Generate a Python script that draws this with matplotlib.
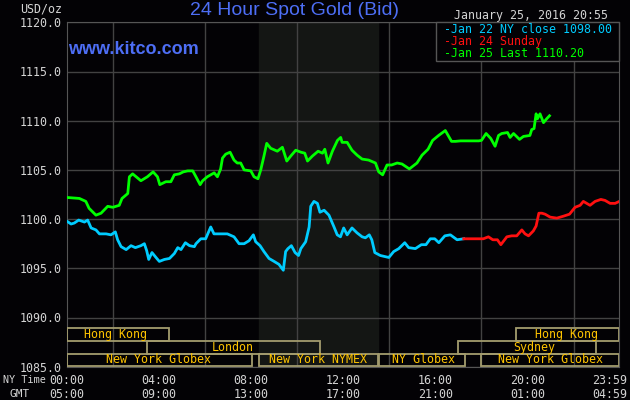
import matplotlib
matplotlib.use("Agg")
import matplotlib.pyplot as plt
from matplotlib.patches import Rectangle
import matplotlib.transforms as mtransforms

# hours (NY time) and bid prices
jan22_hours = [0, 0.19, 0.33, 0.52, 0.77, 0.91, 1.06, 1.27, 1.42, 1.71, 1.92, 2.11, 2.21, 2.36,
               2.58, 2.79, 2.98, 3.22, 3.37, 3.47, 3.56, 3.7, 3.91, 4.02, 4.24, 4.46, 4.67, 4.82,
               4.96, 5.15, 5.33, 5.54, 5.61, 5.82, 6.03, 6.25, 6.39, 6.68, 6.97, 7.26, 7.48, 7.7,
               7.91, 8.1, 8.2, 8.39, 8.56, 8.78, 9.0, 9.21, 9.4, 9.5, 9.6, 9.75, 9.91, 10.06,
               10.16, 10.37, 10.52, 10.59, 10.73, 10.88, 10.99, 11.17, 11.38, 11.6, 11.74, 11.88,
               12.02, 12.17, 12.38, 12.6, 12.82, 12.96, 13.13, 13.24, 13.37, 13.61, 13.98, 14.19,
               14.41, 14.67, 14.84, 15.13, 15.39, 15.59, 15.78, 15.97, 16.15, 16.41, 16.65, 16.94,
               17.23]
jan22_price = [1099.8, 1099.5, 1099.6, 1099.9, 1099.7, 1099.9, 1099.1, 1098.9, 1098.5, 1098.5,
               1098.4, 1098.7, 1097.9, 1097.2, 1096.9, 1097.3, 1097.1, 1097.3, 1097.5, 1096.8,
               1095.9, 1096.6, 1096.0, 1095.7, 1095.9, 1096.0, 1096.5, 1097.1, 1096.9, 1097.6,
               1097.3, 1097.2, 1097.5, 1098.0, 1098.0, 1099.2, 1098.5, 1098.5, 1098.5, 1098.2,
               1097.5, 1097.5, 1097.8, 1098.4, 1097.7, 1097.3, 1096.7, 1096.0, 1095.7, 1095.4,
               1094.8, 1096.7, 1097.0, 1097.3, 1096.6, 1096.3, 1097.0, 1097.7, 1099.2, 1101.3,
               1101.8, 1101.6, 1100.7, 1100.9, 1100.4, 1099.2, 1098.4, 1098.2, 1099.1, 1098.4,
               1099.1, 1098.6, 1098.2, 1098.1, 1098.4, 1097.9, 1096.6, 1096.3, 1096.1, 1096.7,
               1097.0, 1097.6, 1097.1, 1097.0, 1097.4, 1097.4, 1098.0, 1098.0, 1097.6, 1098.3,
               1098.4, 1097.9, 1098.0]

jan24_hours = [17.23, 17.8, 18.08, 18.3, 18.49, 18.69, 18.84, 19.1, 19.31, 19.53, 19.75, 19.89,
               20.04, 20.25, 20.37, 20.49, 20.62, 20.76, 20.98, 21.27, 21.56, 21.82, 22.06, 22.28,
               22.42, 22.71, 22.93, 23.18, 23.36, 23.58, 23.8, 23.98]
jan24_price = [1098.0, 1098.0, 1098.0, 1098.2, 1097.9, 1097.9, 1097.4, 1098.2, 1098.3, 1098.3,
               1098.9, 1098.5, 1098.3, 1098.8, 1099.3, 1100.6, 1100.6, 1100.5, 1100.2, 1100.1,
               1100.3, 1100.5, 1101.2, 1101.4, 1101.8, 1101.4, 1101.8, 1102.0, 1101.9, 1101.6,
               1101.6, 1101.8]

jan25_hours = [0, 0.55, 0.83, 0.97, 1.27, 1.49, 1.78, 2.0, 2.28, 2.4, 2.65, 2.72, 2.86, 3.22,
               3.5, 3.75, 3.94, 4.04, 4.3, 4.52, 4.67, 4.89, 5.06, 5.25, 5.47, 5.61, 5.79, 5.9,
               6.1, 6.4, 6.54, 6.68, 6.76, 6.9, 7.09, 7.26, 7.4, 7.55, 7.7, 7.99, 8.13, 8.3,
               8.42, 8.56, 8.68, 8.85, 9.14, 9.36, 9.55, 9.72, 9.94, 10.16, 10.33, 10.45, 10.66,
               10.91, 11.1, 11.2, 11.34, 11.53, 11.75, 11.89, 11.95, 12.17, 12.38, 12.6, 12.82,
               13.1, 13.4, 13.54, 13.71, 13.9, 14.1, 14.34, 14.55, 14.87, 15.2, 15.42, 15.68,
               15.88, 16.14, 16.43, 16.7, 16.87, 17.09, 17.88, 18.0, 18.2, 18.4, 18.59, 18.74,
               18.88, 19.13, 19.24, 19.39, 19.65, 19.82, 20.1, 20.18, 20.28, 20.37, 20.43, 20.54,
               20.69, 20.83, 20.95]
jan25_price = [1102.2, 1102.1, 1101.8, 1101.1, 1100.4, 1100.6, 1101.3, 1101.2, 1101.4, 1102.1,
               1102.6, 1104.3, 1104.6, 1103.9, 1104.3, 1104.8, 1104.3, 1103.5, 1103.8, 1103.8,
               1104.5, 1104.6, 1104.8, 1104.9, 1104.9, 1104.3, 1103.5, 1103.9, 1104.3, 1104.7,
               1104.3, 1105.1, 1106.2, 1106.6, 1106.8, 1106.0, 1105.7, 1105.7, 1105.0, 1104.9,
               1104.3, 1104.1, 1105.0, 1106.4, 1107.7, 1107.2, 1106.9, 1107.3, 1105.9, 1106.4,
               1107.0, 1106.8, 1106.7, 1105.9, 1106.4, 1106.9, 1106.7, 1107.1, 1105.7, 1106.9,
               1108.0, 1108.3, 1107.8, 1107.8, 1107.0, 1106.5, 1106.1, 1106.0, 1105.7, 1104.8,
               1104.5, 1105.5, 1105.5, 1105.7, 1105.6, 1105.1, 1105.7, 1106.5, 1107.1, 1108.0,
               1108.5, 1109.0, 1107.9, 1107.9, 1107.95, 1107.95, 1108.0, 1108.7, 1108.2, 1107.4,
               1108.5, 1108.7, 1108.8, 1108.3, 1108.7, 1108.1, 1108.4, 1108.5, 1109.1, 1109.2,
               1110.7, 1110.2, 1110.7, 1109.8, 1110.2, 1110.5]

# trading sessions: (row, start hour, end hour, name)
sessions = [
    (0, 0, 4.45, "Hong Kong"),
    (0, 19.5, 23.98, "Hong Kong"),
    (1, 3.5, 11.0, "London"),
    (1, 17.0, 22.95, "Sydney"),
    (2, 0, 8.05, "New York Globex"),
    (2, 8.33, 13.5, "New York NYMEX"),
    (2, 13.55, 17.3, "NY Globex"),
    (2, 18.0, 23.98, "New York Globex"),
]
session_label_x = [2.1, 21.7, 7.2, 20.3, 4.0, 10.9, 15.5, 21.0]

ny_labels = ["00:00", "04:00", "08:00", "12:00", "16:00", "20:00", "23:59"]
gmt_labels = ["05:00", "09:00", "13:00", "17:00", "21:00", "01:00", "04:59"]
label_hours = [0, 4, 8, 12, 16, 20, 23.55]

legend_lines = [("-Jan 22 NY close 1098.00", "#00ccff"),
                ("-Jan 24 Sunday", "#ff1010"),
                ("-Jan 25 Last 1110.20", "#00ff00")]

mono = "DejaVu Sans Mono"
txt = "#d4d4d4"
gold = "#ffc400"
edge = "#a39c6e"
gridc = "#424242"

fig = plt.figure(figsize=(6.3, 4), dpi=100, facecolor="#030205")
ax = fig.add_axes([66.7 / 630, 1 - 366.7 / 400, (619.3 - 66.7) / 630, (366.7 - 22.3) / 400])
ax.set_facecolor("#030205")
ax.set_xlim(0, 23.98)
ax.set_ylim(1085, 1120)

ax.axvspan(8.33, 13.5, color="#141614", zorder=0)

ax.set_xticks(list(range(0, 24, 2)), minor=True)
ax.set_yticks([1085 + 5 * i for i in range(8)])
ax.yaxis.set_major_formatter(matplotlib.ticker.FormatStrFormatter("%.1f"))
ax.grid(True, which="minor", axis="x", color=gridc, lw=1, zorder=1)
ax.grid(True, which="major", axis="y", color=gridc, lw=1, zorder=1)
ax.set_xticks(label_hours)
ax.set_xticklabels([a + "\n" + b for a, b in zip(ny_labels, gmt_labels)])
ax.tick_params(which="both", length=0)
ax.tick_params(axis="x", pad=5, colors=txt, labelsize=8.4)
ax.tick_params(axis="y", pad=4, colors=txt, labelsize=8.4)
for lab in ax.get_xticklabels() + ax.get_yticklabels():
    lab.set_fontfamily(mono)
for lab in ax.get_xticklabels():
    lab.set_linespacing(1.15)
for s in ax.spines.values():
    s.set_color("#555555")

trans = mtransforms.blended_transform_factory(ax.transData, ax.transAxes)
row_h = 12.8 / 344.4
for (row, h0, h1, name), lx in zip(sessions, session_label_x):
    y0 = (2 - row) * row_h + 0.001
    ax.add_patch(Rectangle((h0, y0), h1 - h0, row_h, transform=trans, fill=False,
                           edgecolor=edge, lw=1.3, zorder=3))
    ax.text(lx, y0 + row_h / 2, name, transform=trans, color=gold, fontsize=8.4,
            family=mono, ha="center", va="center", zorder=4)

ax.plot(jan22_hours, jan22_price, color="#00ccff", lw=2, zorder=5)
ax.plot(jan24_hours, jan24_price, color="#ff1010", lw=2, zorder=5)
ax.plot(jan25_hours, jan25_price, color="#00ff00", lw=2, zorder=6)

# legend box
fig.patches.append(Rectangle((436 / 630, 1 - 61 / 400), (619.3 - 436) / 630, 38.7 / 400,
                             transform=fig.transFigure, facecolor="#030205",
                             edgecolor="#555555", lw=1, zorder=10))
for i, (s, c) in enumerate(legend_lines):
    fig.text(444 / 630, 1 - (29.5 + 12.2 * i) / 400, s, color=c, fontsize=8.4,
             family=mono, va="center", ha="left", zorder=11)

fig.text(294 / 630, 1 - 10.5 / 400, "24 Hour Spot Gold (Bid)", color="#4d6ef5",
         fontsize=14, family="Liberation Sans", ha="center", va="center")
fig.text(68 / 630, 1 - 49 / 400, "www.kitco.com", color="#4d6ef5", fontsize=13,
         family="Liberation Sans", weight="bold", ha="left", va="center", zorder=7)
fig.text(608 / 630, 1 - 15 / 400, "January 25, 2016 20:55", color=txt, fontsize=8.4,
         family=mono, ha="right", va="center")
fig.text(62 / 630, 1 - 9 / 400, "USD/oz", color=txt, fontsize=8.4, family=mono,
         ha="right", va="center")
fig.text(3 / 630, 1 - 380 / 400, "NY Time", color=txt, fontsize=7.3, family=mono,
         ha="left", va="center")
fig.text(20 / 630, 1 - 394 / 400, "GMT", color=txt, fontsize=8.0, family=mono,
         ha="center", va="center")

fig.savefig("out.png", dpi=100, facecolor=fig.get_facecolor())
